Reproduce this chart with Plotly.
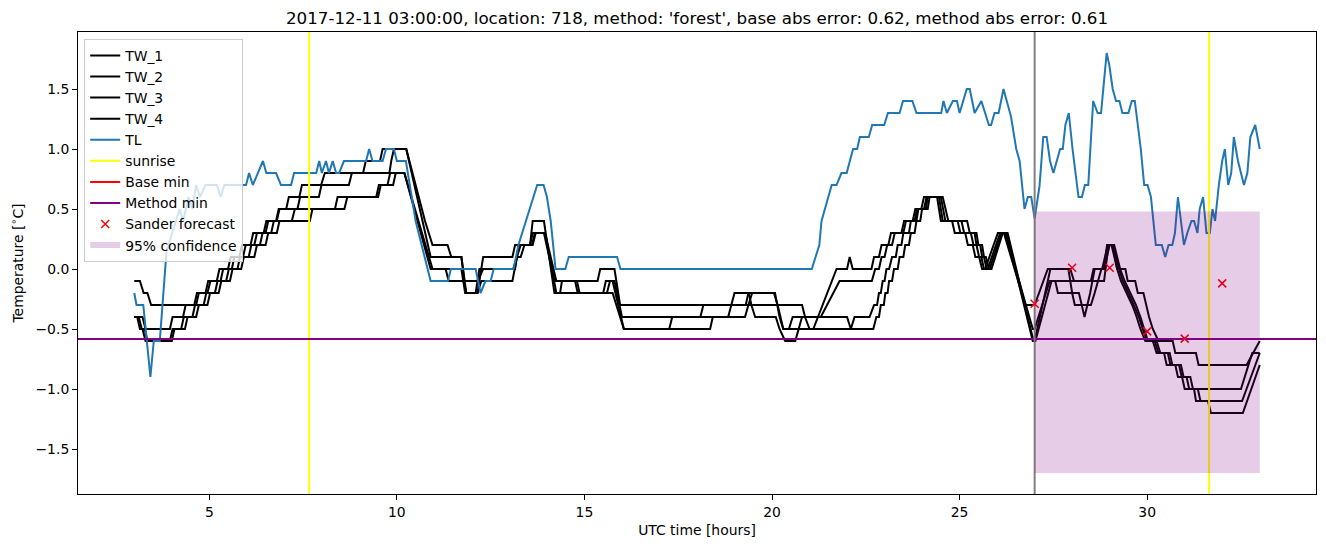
import plotly.graph_objects as go

TITLE = "2017-12-11 03:00:00, location: 718, method: 'forest', base abs error: 0.62, method abs error: 0.61"

TL_POINTS = [(3.0,-0.2),(3.06,-0.3),(3.24,-0.3),(3.43,-0.9),(3.52,-0.6),(3.68,-0.6),(3.86,0.15),(4.21,0.5),(4.3,0.4),(4.45,0.6),(4.55,0.5),(4.65,0.7),(4.75,0.6),(4.9,0.7),(5.2,0.7),(5.3,0.6),(5.4,0.7),(5.9,0.7),
             (5.98,0.7),(6.06,0.8),(6.16,0.7),(6.43,0.9),(6.52,0.8),(6.78,0.8),(6.91,0.7),(7.18,0.7),(7.26,0.8),(7.85,0.8),(7.93,0.9),(8.0,0.8),(8.11,0.9),(8.19,0.8),(8.29,0.9),(8.38,0.8),(8.46,0.8),(8.59,0.9),
             (9.18,0.9),(9.26,1.0),(9.35,0.9),(9.62,0.9),(9.71,1.0),(9.92,1.0),(10.0,0.9),(10.24,0.9),(10.5,0.4),(10.9,-0.1),(11.36,-0.1),(11.44,0.0),(12.1,0.0),(12.23,-0.2),(12.36,-0.1),(12.5,-0.1),(12.58,0.0),
             (13.11,0.0),(13.24,0.2),(13.74,0.7),(13.91,0.7),(14.0,0.6),(14.1,0.4),(14.23,0.0),(14.49,0.0),(14.58,0.1),(15.87,0.1),(15.96,0.0),(21.06,0.0),(21.26,0.2),(21.32,0.4),(21.59,0.7),(21.72,0.7),
             (21.85,0.8),(21.99,0.8),(22.16,1.0),(22.27,1.0),(22.34,1.1),(22.58,1.1),(22.67,1.2),(22.99,1.2),(23.09,1.3),(23.4,1.3),(23.49,1.4),(23.74,1.4),(23.85,1.3),(24.51,1.3),(24.57,1.4),(24.66,1.3),
             (24.82,1.4),(24.93,1.4),(25.0,1.3),(25.19,1.5),(25.27,1.5),(25.4,1.3),(25.58,1.4),(25.78,1.2),(25.84,1.2),(25.93,1.3),(26.04,1.3),(26.17,1.5),(26.37,1.27),(26.51,1.0),(26.6,0.9),(26.73,0.5),
             (26.82,0.6),(26.91,0.6),(27.0,0.42),(27.13,0.69),(27.23,1.1),(27.32,1.1),(27.41,0.9),(27.5,0.8),(27.68,1.0),(27.75,1.0),(27.82,1.2),(27.91,1.3),(28.01,1.0),(28.17,0.6),(28.26,0.6),(28.34,0.7),
             (28.43,0.7),(28.56,1.4),(28.68,1.3),(28.77,1.3),(28.83,1.5),(28.92,1.8),(28.99,1.7),(29.08,1.5),(29.17,1.4),(29.26,1.4),(29.34,1.3),(29.5,1.3),(29.59,1.4),(29.67,1.4),(29.83,1.0),(29.92,0.7),
             (30.01,0.7),(30.1,0.6),(30.23,0.2),(30.39,0.2),(30.48,0.1),(30.57,0.2),(30.67,0.2),(30.74,0.3),(30.82,0.6),(30.98,0.2),(31.07,0.3),(31.18,0.4),(31.25,0.4),(31.34,0.3),(31.4,0.5),(31.49,0.6),
             (31.58,0.3),(31.67,0.3),(31.74,0.5),(31.81,0.4),(31.91,0.7),(32.0,0.9),(32.07,1.0),(32.16,0.7),(32.24,0.8),(32.31,1.1),(32.42,0.9),(32.58,0.7),(32.67,0.8),(32.75,1.1),(32.88,1.2),(33.0,1.0)]

TW1_POINTS = [(3.0,-0.1),(3.15,-0.1),(3.25,-0.2),(3.35,-0.2),(3.45,-0.3),(4.65,-0.3),(4.72,-0.2),(4.95,-0.2),(5.03,-0.1),(5.3,-0.1),(5.37,0.0),(5.6,0.0),(5.67,0.1),(5.9,0.1),(5.97,0.2),(6.2,0.2),(6.27,0.3),(6.5,0.3),
              (6.57,0.4),(6.8,0.4),(6.87,0.5),(7.05,0.5),(7.12,0.6),(7.4,0.6),(7.47,0.7),(7.98,0.7),(8.08,0.8),(9.1,0.8),(9.17,0.9),(9.55,0.9),(9.62,1.0),(10.25,1.0),(10.75,0.4),(10.85,0.3),(10.95,0.2),(11.35,0.2),
              (11.45,0.1),(11.72,0.1),(11.85,-0.2),(12.15,-0.2),(12.3,0.1),(13.08,0.1),(13.15,0.2),(13.55,0.2),(13.62,0.4),(13.92,0.4),(14.2,-0.2),(14.35,-0.2),(14.4,-0.1),(15.35,-0.1),(15.42,0.0),(15.8,0.0),
              (15.95,-0.3),(20.8,-0.3),(20.88,-0.4),(21.0,-0.5),(21.1,-0.5),(21.72,0.0),(22.0,0.0),(22.07,0.1),(22.15,0.0),(22.65,0.0),(22.72,0.1),(22.85,0.1),(22.92,0.2),(23.1,0.2),(23.17,0.3),(23.45,0.3),
              (23.52,0.4),(23.75,0.4),(23.82,0.5),(23.98,0.5),(24.05,0.6),(24.4,0.6),(24.5,0.4),(24.8,0.4),(24.87,0.3),(25.15,0.3),(25.22,0.2),(25.35,0.2),(25.42,0.1),(25.52,0.1),(25.6,0.0),(25.68,0.0),
              (26.02,0.3),(26.18,0.3),(26.75,-0.3),(27.0,-0.3),(27.35,0.0),(27.95,0.0),(28.05,-0.1),(28.5,-0.1),(28.57,0.0),(28.85,0.0),(28.93,0.2),(29.05,0.2),(29.2,0.0),(29.42,0.0),(29.48,-0.1),(29.68,-0.1),
              (29.75,-0.2),(29.9,-0.2),(29.97,-0.3),(30.05,-0.4),(30.15,-0.5),(30.3,-0.6),(30.68,-0.6),(30.75,-0.7),(31.3,-0.7),(31.37,-0.8),(32.65,-0.8),(33.0,-0.6)]

TW2_POINTS = [(3.0,-0.4),(3.22,-0.4),(3.3,-0.5),(3.95,-0.5),(4.02,-0.4),(4.3,-0.4),(4.37,-0.3),(4.6,-0.3),(4.67,-0.2),(4.9,-0.2),(4.97,-0.1),(5.2,-0.1),(5.27,0.0),(5.5,0.0),(5.57,0.1),(5.8,0.1),(5.87,0.2),(6.1,0.2),
              (6.17,0.3),(6.45,0.3),(6.52,0.4),(6.78,0.4),(6.85,0.5),(7.35,0.5),(7.42,0.6),(7.92,0.6),(7.99,0.7),(8.72,0.7),(8.8,0.8),(9.8,0.8),(9.85,0.9),(9.92,1.0),(10.25,1.0),(10.9,0.1),(11.72,0.1),(11.8,-0.1),
              (12.15,-0.1),(12.3,0.0),(13.15,0.0),(13.25,0.2),(13.55,0.2),(13.62,0.3),(13.92,0.3),(14.2,-0.1),(14.75,-0.1),(14.82,-0.2),(15.6,-0.2),(15.68,-0.1),(15.8,-0.1),(16.0,-0.4),(18.09,-0.4),(18.17,-0.3),
              (19.3,-0.3),(19.37,-0.2),(20.05,-0.2),(20.15,-0.3),(20.3,-0.5),(20.45,-0.5),(20.55,-0.4),(21.3,-0.4),(21.8,-0.1),(22.66,-0.1),(22.75,0.0),(22.85,0.0),(22.92,0.1),(23.0,0.1),(23.07,0.2),(23.2,0.2),
              (23.27,0.3),(23.5,0.3),(23.57,0.4),(23.8,0.4),(23.87,0.5),(24.05,0.5),(24.12,0.6),(24.45,0.6),(24.55,0.4),(24.95,0.4),(25.02,0.3),(25.3,0.3),(25.37,0.2),(25.45,0.2),(25.52,0.1),(25.58,0.1),
              (25.65,0.0),(25.75,0.0),(26.08,0.3),(26.22,0.3),(26.95,-0.5),(27.0,-0.5),(27.4,-0.1),(28.85,-0.1),(28.97,0.2),(29.08,0.2),(29.2,0.0),(29.3,-0.1),(29.45,-0.2),(29.6,-0.3),(29.72,-0.4),(29.82,-0.5),
              (29.95,-0.6),(30.15,-0.6),(30.25,-0.7),(30.45,-0.7),(30.52,-0.8),(30.75,-0.8),(30.82,-0.9),(30.93,-0.9),(31.0,-1.0),(32.5,-1.0),(32.8,-0.7),(33.0,-0.7)]

TW3_POINTS = [(3.0,-0.4),(3.12,-0.4),(3.2,-0.5),(3.28,-0.5),(3.35,-0.6),(3.95,-0.6),(4.02,-0.5),(4.25,-0.5),(4.32,-0.4),(4.55,-0.4),(4.62,-0.3),(4.85,-0.3),(4.92,-0.2),(5.15,-0.2),(5.22,-0.1),(5.45,-0.1),(5.52,0.0),(5.75,0.0),
              (5.82,0.1),(6.05,0.1),(6.12,0.2),(6.35,0.2),(6.42,0.3),(6.65,0.3),(6.72,0.4),(7.2,0.4),(7.28,0.5),(8.6,0.5),(8.68,0.6),(9.5,0.6),(9.57,0.7),(9.9,0.7),(9.97,0.8),(10.2,0.8),(10.9,0.0),(11.72,0.0),
              (11.82,-0.2),(12.15,-0.2),(12.25,-0.1),(13.08,-0.1),(13.2,0.1),(13.3,0.2),(13.6,0.2),(13.68,0.3),(13.95,0.3),(14.25,-0.2),(15.5,-0.2),(15.57,-0.1),(15.75,-0.1),(16.05,-0.5),(17.26,-0.5),(17.34,-0.4),
              (18.83,-0.4),(18.92,-0.3),(19.0,-0.2),(19.38,-0.2),(19.45,-0.3),(19.55,-0.4),(20.1,-0.4),(20.2,-0.5),(20.35,-0.6),(20.62,-0.6),(20.7,-0.5),(20.8,-0.4),(22.0,-0.4),(22.1,-0.5),(22.2,-0.4),(22.6,-0.4),
              (22.72,-0.3),(22.8,-0.3),(22.85,-0.2),(22.9,-0.2),(22.95,-0.1),(23.0,-0.1),(23.05,0.0),(23.12,0.0),(23.2,0.1),(23.3,0.1),(23.35,0.2),(23.45,0.2),(23.5,0.3),(23.65,0.3),(23.7,0.4),(23.85,0.4),
              (23.9,0.5),(24.1,0.5),(24.15,0.6),(24.5,0.6),(24.62,0.4),(25.05,0.4),(25.12,0.3),(25.4,0.3),(25.45,0.2),(25.55,0.2),(25.6,0.1),(25.65,0.1),(25.72,0.0),(25.8,0.0),(26.12,0.3),(26.25,0.3),
              (26.95,-0.6),(27.0,-0.6),(27.42,0.0),(27.9,0.0),(28.0,-0.2),(28.18,-0.2),(28.33,-0.4),(28.48,-0.2),(28.6,0.0),(28.8,0.0),(28.95,0.2),(29.1,0.2),(29.25,0.0),(29.35,-0.1),(29.5,-0.2),(29.65,-0.3),
              (29.78,-0.4),(29.88,-0.5),(30.0,-0.6),(30.2,-0.6),(30.3,-0.7),(30.55,-0.7),(30.62,-0.8),(30.85,-0.8),(30.92,-0.9),(31.05,-0.9),(31.12,-1.0),(31.25,-1.0),(31.3,-1.1),(32.53,-1.1),(33.0,-0.7)]

TW4_POINTS = [(3.0,-0.4),(3.08,-0.4),(3.15,-0.5),(3.22,-0.5),(3.3,-0.6),(4.0,-0.6),(4.07,-0.5),(4.35,-0.5),(4.42,-0.4),(4.65,-0.4),(4.72,-0.3),(4.95,-0.3),(5.02,-0.2),(5.25,-0.2),(5.32,-0.1),(5.55,-0.1),(5.62,0.0),(5.85,0.0),
              (5.92,0.1),(6.2,0.1),(6.27,0.2),(6.5,0.2),(6.57,0.3),(6.8,0.3),(6.87,0.4),(7.68,0.4),(7.75,0.5),(8.35,0.5),(8.42,0.6),(9.45,0.6),(9.52,0.7),(9.75,0.7),(9.82,0.8),(10.2,0.8),(10.95,0.0),(11.3,0.0),
              (11.38,-0.1),(11.78,-0.1),(11.85,-0.2),(12.1,-0.2),(12.2,0.0),(13.1,0.0),(13.2,0.1),(13.3,0.1),(13.4,0.2),(13.62,0.2),(13.7,0.3),(13.95,0.3),(14.25,-0.1),(14.8,-0.1),(14.87,-0.2),(15.75,-0.2),
              (16.05,-0.5),(18.35,-0.5),(18.42,-0.4),(19.28,-0.4),(19.37,-0.3),(19.47,-0.2),(20.08,-0.2),(20.2,-0.4),(20.3,-0.5),(22.7,-0.5),(22.78,-0.4),(22.85,-0.4),(22.9,-0.3),(22.98,-0.3),(23.02,-0.2),
              (23.08,-0.2),(23.12,-0.1),(23.2,-0.1),(23.25,0.0),(23.35,0.0),(23.4,0.1),(23.5,0.1),(23.55,0.2),(23.65,0.2),(23.7,0.3),(23.8,0.3),(23.85,0.4),(23.95,0.4),(24.0,0.5),(24.15,0.5),(24.2,0.6),
              (24.55,0.6),(24.7,0.4),(25.2,0.4),(25.27,0.3),(25.45,0.3),(25.5,0.2),(25.6,0.2),(25.65,0.1),(25.7,0.1),(25.78,0.0),(25.85,0.0),(26.15,0.3),(26.28,0.3),(26.97,-0.6),(27.02,-0.6),(27.45,-0.1),
              (27.55,-0.1),(27.62,-0.2),(28.0,-0.2),(28.07,-0.3),(28.5,-0.3),(28.6,-0.2),(28.7,-0.1),(28.78,0.0),(28.85,0.0),(29.0,0.2),(29.12,0.2),(29.28,0.0),(29.4,-0.1),(29.55,-0.2),(29.7,-0.3),(29.82,-0.4),
              (29.92,-0.5),(30.02,-0.6),(30.25,-0.6),(30.35,-0.7),(30.6,-0.7),(30.67,-0.8),(30.9,-0.8),(30.97,-0.9),(31.15,-0.9),(31.22,-1.0),(31.35,-1.0),(31.42,-1.1),(31.62,-1.1),(31.7,-1.2),(32.55,-1.2),(33.0,-0.8)]

SUNRISE_HOURS = [7.66, 31.65]
FORECAST_START = 27.0
BASE_MIN = -0.583
METHOD_MIN = -0.583
SANDER_HOURS = [27, 28, 29, 30, 31, 32]
SANDER_VALUES = [-0.29, 0.01, 0.01, -0.52, -0.58, -0.12]
CONF_HOURS = [27.0, 33.0]
CONF_LOWER = [-1.7, -1.7]
CONF_UPPER = [0.48, 0.48]
X_TICKS = [5, 10, 15, 20, 25, 30]
Y_TICKS = [-1.5, -1.0, -0.5, 0.0, 0.5, 1.0, 1.5]


def unzip(points):
    return [p[0] for p in points], [p[1] for p in points]


all_x = [p[0] for p in TL_POINTS] + CONF_HOURS
all_y = [p[1] for p in TL_POINTS] + CONF_LOWER + CONF_UPPER
for pts in (TW1_POINTS, TW2_POINTS, TW3_POINTS, TW4_POINTS):
    all_y += [p[1] for p in pts]
xmin, xmax = min(all_x), max(all_x)
ymin, ymax = min(all_y), max(all_y)
xr = [xmin - 0.05 * (xmax - xmin), xmax + 0.05 * (xmax - xmin)]
yr = [ymin - 0.05 * (ymax - ymin), ymax + 0.05 * (ymax - ymin)]

fig = go.Figure()
LW = 2
for i, pts in enumerate((TW1_POINTS, TW2_POINTS, TW3_POINTS, TW4_POINTS)):
    x, y = unzip(pts)
    fig.add_trace(go.Scatter(x=x, y=y, mode="lines", name=f"TW_{i+1}",
                             line=dict(color="black", width=LW)))
x, y = unzip(TL_POINTS)
fig.add_trace(go.Scatter(x=x, y=y, mode="lines", name="TL",
                         line=dict(color="#1f77b4", width=LW)))

sx, sy = [], []
for h in SUNRISE_HOURS:
    sx += [h, h, None]
    sy += [yr[0], yr[1], None]
fig.add_trace(go.Scatter(x=sx, y=sy, mode="lines", name="sunrise",
                         line=dict(color="yellow", width=LW)))
fig.add_trace(go.Scatter(x=xr, y=[BASE_MIN, BASE_MIN], mode="lines", name="Base min",
                         line=dict(color="red", width=LW)))
fig.add_trace(go.Scatter(x=xr, y=[METHOD_MIN, METHOD_MIN], mode="lines", name="Method min",
                         line=dict(color="purple", width=LW)))
fig.add_trace(go.Scatter(x=[FORECAST_START, FORECAST_START], y=yr, mode="lines", showlegend=False,
                         line=dict(color="gray", width=LW)))
fig.add_trace(go.Scatter(x=SANDER_HOURS, y=SANDER_VALUES, mode="markers", name="Sander forecast",
                         marker=dict(symbol="x-thin", size=8, line=dict(color="red", width=1.5), color="red")))
fig.add_trace(go.Scatter(x=CONF_HOURS + CONF_HOURS[::-1], y=CONF_UPPER + CONF_LOWER[::-1], mode="none",
                         fill="toself", fillcolor="rgba(128,0,128,0.2)", name="95% confidence"))

axis_common = dict(showline=True, mirror=True, linecolor="black", linewidth=1, ticks="outside", ticklen=5,
                   tickwidth=1, tickcolor="black", showgrid=False, zeroline=False,
                   tickfont=dict(family="DejaVu Sans", size=13.9, color="black"))
fig.update_xaxes(range=xr, tickvals=X_TICKS, ticktext=[str(v) for v in X_TICKS],
                 title=dict(text="UTC time [hours]", standoff=6, font=dict(size=13.9)), **axis_common)
fig.update_yaxes(range=yr, tickvals=Y_TICKS, ticktext=[f"{v:.1f}".replace("-", "\u2212") for v in Y_TICKS],
                 title=dict(text="Temperature [<sup>\u2218</sup>C]", standoff=8, font=dict(size=13.9)), **axis_common)

fig.update_layout(
    width=1326, height=547,
    margin=dict(l=78, r=10, t=32, b=53),
    plot_bgcolor="white", paper_bgcolor="white",
    font=dict(family="DejaVu Sans", size=13.9, color="black"),
    title=dict(text=TITLE, x=0.5, xref="paper", xanchor="center", y=1 - 18 / 547, yref="container",
               yanchor="middle", font=dict(size=16.7, color="black")),
    legend=dict(x=0.005, y=0.985, xanchor="left", yanchor="top", bgcolor="rgba(255,255,255,0.8)",
                bordercolor="#cccccc", borderwidth=1, traceorder="normal",
                font=dict(size=13.9), itemwidth=30),
    showlegend=True,
)

fig.write_html("out.html")
